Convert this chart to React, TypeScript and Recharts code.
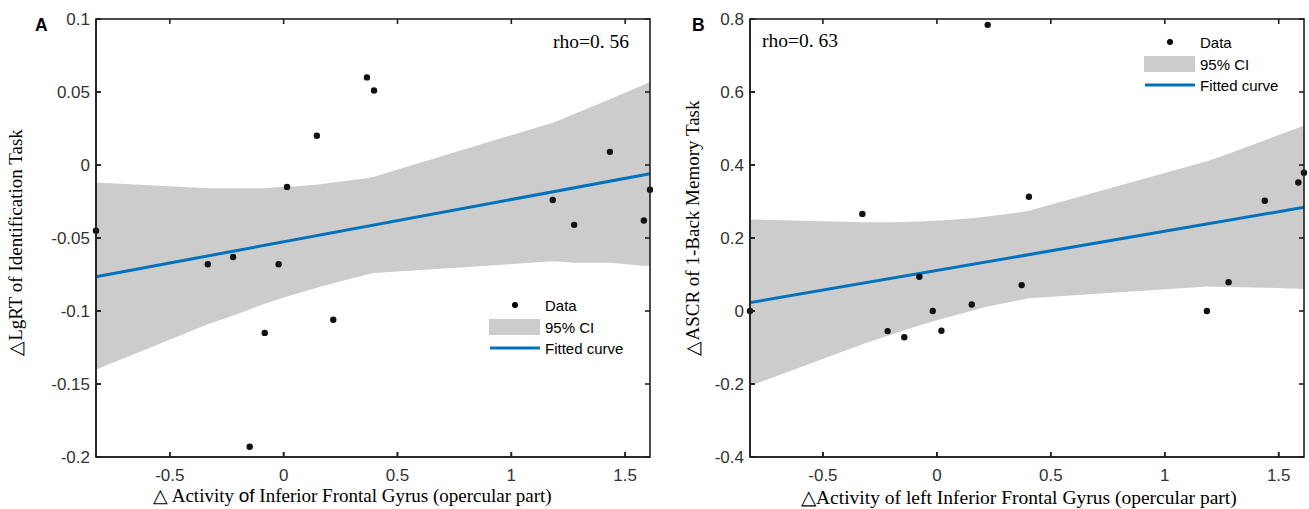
import React from 'react';
import {
  ComposedChart,
  Scatter,
  Line,
  Area,
  XAxis,
  YAxis,
  Legend,
} from 'recharts';

// ---------- Panel A data ----------
const xA = [-0.824, -0.333, -0.222, -0.149, -0.083, -0.022, 0.015, 0.146, 0.218, 0.366, 0.397, 1.182, 1.276, 1.433, 1.582, 1.609];
const yA = [-0.045, -0.068, -0.063, -0.193, -0.115, -0.068, -0.015, 0.02, -0.106, 0.06, 0.051, -0.024, -0.041, 0.009, -0.038, -0.017];
const ciLowA = [-0.14, -0.109, -0.103, -0.099, -0.095, -0.092, -0.09, -0.084, -0.081, -0.075, -0.074, -0.066, -0.067, -0.067, -0.069, -0.069];
const ciHighA = [-0.012, -0.016, -0.016, -0.016, -0.016, -0.015, -0.015, -0.0135, -0.012, -0.009, -0.008, 0.029, 0.035, 0.045, 0.055, 0.057];
const fitXA = [-0.824, 1.609];
const fitYA = [-0.0765, -0.006];
const yTicksA = [-0.2, -0.15, -0.1, -0.05, 0, 0.05, 0.1];

// ---------- Panel B data ----------
const xB = [-0.82, -0.327, -0.216, -0.143, -0.077, -0.018, 0.02, 0.153, 0.223, 0.372, 0.404, 1.185, 1.28, 1.439, 1.586, 1.611];
const yB = [0.0, 0.266, -0.055, -0.072, 0.094, 0.0, -0.054, 0.018, 0.784, 0.071, 0.313, 0.0, 0.079, 0.302, 0.352, 0.379];
const ciLowB = [-0.205, -0.091, -0.068, -0.053, -0.04, -0.029, -0.022, 0.001, 0.012, 0.031, 0.035, 0.067, 0.066, 0.064, 0.061, 0.06];
const ciHighB = [0.251, 0.243, 0.243, 0.244, 0.245, 0.247, 0.248, 0.254, 0.259, 0.271, 0.275, 0.41, 0.431, 0.468, 0.502, 0.508];
const fitXB = [-0.82, 1.611];
const fitYB = [0.023, 0.284];
const yTicksB = [-0.4, -0.2, 0, 0.2, 0.4, 0.6, 0.8];

const xTicks = [-0.5, 0, 0.5, 1, 1.5];

const SANS = "'Liberation Sans', Arial, sans-serif";
const SERIF = "'Liberation Serif', 'Times New Roman', serif";
const AXIS = '#202020';
const BLUE = '#0072BD';
const BAND = '#cccccc';
const LW = 1.6;
const TICK_LEN = 5;

// layout of the two panels (page pixels)
const CHART_H = 509;
const TOP = 19;
const XAXIS_H = 52;
const A_LEFT = 0, A_W = 660, A_YW = 96, A_MR = 10;
const B_LEFT = 655, B_W = 654, B_YW = 95, B_MR = 5;

const zipPts = (xs: number[], ys: number[]) => xs.map((x, i) => ({ x, y: ys[i] }));
const zipBand = (xs: number[], lo: number[], hi: number[]) => xs.map((x, i) => ({ x, band: [lo[i], hi[i]] }));

const fmt = (v: number) => String(v);

const Dot = (p: any) => <circle cx={p.cx} cy={p.cy} r={3.2} fill="#111" />;

const LegendBox = () => (
  <svg width={150} height={66} style={{ overflow: 'visible' }}>
    <circle cx={26} cy={9} r={3} fill="#000" />
    <text x={56} y={9} dominantBaseline="central" fontFamily={SANS} fontSize={15} fill="#000">Data</text>
    <rect x={0} y={23} width={51} height={16} fill={BAND} />
    <text x={56} y={31} dominantBaseline="central" fontFamily={SANS} fontSize={15} fill="#000">95% CI</text>
    <line x1={1} x2={51} y1={52} y2={52} stroke={BLUE} strokeWidth={3} />
    <text x={56} y={52} dominantBaseline="central" fontFamily={SANS} fontSize={15} fill="#000">Fitted curve</text>
  </svg>
);

// MATLAB-style box with inward ticks, positioned from the panel layout and axis domains
type FrameProps = {
  left: number;
  right: number;
  top: number;
  bottom: number;
  xDomain: [number, number];
  yDomain: [number, number];
  yTicks: number[];
};
const Frame = (f: FrameProps) => {
  const sx = (v: number) => f.left + ((v - f.xDomain[0]) / (f.xDomain[1] - f.xDomain[0])) * (f.right - f.left);
  const sy = (v: number) => f.bottom - ((v - f.yDomain[0]) / (f.yDomain[1] - f.yDomain[0])) * (f.bottom - f.top);
  return (
    <g stroke={AXIS} strokeWidth={LW} fill="none">
      <rect x={f.left} y={f.top} width={f.right - f.left} height={f.bottom - f.top} />
      {xTicks.map((t) => (
        <g key={'x' + t}>
          <line x1={sx(t)} x2={sx(t)} y1={f.bottom} y2={f.bottom - TICK_LEN} />
          <line x1={sx(t)} x2={sx(t)} y1={f.top} y2={f.top + TICK_LEN} />
        </g>
      ))}
      {f.yTicks.map((t) => (
        <g key={'y' + t}>
          <line x1={f.left} x2={f.left + TICK_LEN} y1={sy(t)} y2={sy(t)} />
          <line x1={f.right} x2={f.right - TICK_LEN} y1={sy(t)} y2={sy(t)} />
        </g>
      ))}
    </g>
  );
};

type PanelProps = {
  width: number;
  yAxisWidth: number;
  marginRight: number;
  xs: number[];
  ys: number[];
  lo: number[];
  hi: number[];
  fx: number[];
  fy: number[];
  yDomain: [number, number];
  yTicks: number[];
  legendLeft: number;
  legendTop: number;
};

const Panel = (pp: PanelProps) => {
  const xDomain: [number, number] = [Math.min(...pp.xs), Math.max(...pp.xs)];
  const tickStyle = { fill: '#333', fontSize: 17, fontFamily: SANS };
  const lineStyle = { stroke: AXIS, strokeWidth: LW };
  const pts = zipPts(pp.xs, pp.ys);
  return (
    <ComposedChart
      width={pp.width}
      height={CHART_H}
      data={zipBand(pp.xs, pp.lo, pp.hi)}
      margin={{ top: TOP, right: pp.marginRight, bottom: 0, left: 0 }}
    >
      <XAxis
        xAxisId="b"
        dataKey="x"
        type="number"
        domain={xDomain}
        ticks={xTicks}
        tickFormatter={fmt}
        height={XAXIS_H}
        stroke={AXIS}
        tickSize={-5}
        tickMargin={17}
        axisLine={lineStyle}
        tickLine={lineStyle}
        tick={tickStyle}
        interval={0}
      />
      <YAxis
        yAxisId="l"
        type="number"
        domain={pp.yDomain}
        ticks={pp.yTicks}
        tickFormatter={fmt}
        width={pp.yAxisWidth}
        stroke={AXIS}
        tickSize={-5}
        tickMargin={11}
        axisLine={lineStyle}
        tickLine={lineStyle}
        tick={tickStyle}
        interval={0}
      />
      <Area
        xAxisId="b"
        yAxisId="l"
        dataKey="band"
        type="linear"
        stroke="none"
        fill={BAND}
        fillOpacity={1}
        isAnimationActive={false}
        activeDot={false}
      />
      <Line
        xAxisId="b"
        yAxisId="l"
        data={zipPts(pp.fx, pp.fy)}
        dataKey="y"
        type="linear"
        stroke={BLUE}
        strokeWidth={3}
        dot={false}
        activeDot={false}
        isAnimationActive={false}
      />
      <Scatter
        xAxisId="b"
        yAxisId="l"
        data={pts}
        dataKey="y"
        shape={Dot}
        isAnimationActive={false}
      />
      <Legend
        layout="vertical"
        align="center"
        verticalAlign="middle"
        content={() => <LegendBox />}
        wrapperStyle={{ position: 'absolute', left: pp.legendLeft, top: pp.legendTop, width: 150, height: 66 }}
      />
    </ComposedChart>
  );
};

export default function App() {
  const xDomA: [number, number] = [Math.min(...xA), Math.max(...xA)];
  const xDomB: [number, number] = [Math.min(...xB), Math.max(...xB)];
  const bottom = CHART_H - XAXIS_H;
  return (
    <div style={{ position: 'absolute', left: 0, top: 0, width: 1309, height: 509, background: '#fff', overflow: 'hidden' }}>
      <div style={{ position: 'absolute', left: A_LEFT, top: 0 }}>
        <Panel
          width={A_W}
          yAxisWidth={A_YW}
          marginRight={A_MR}
          xs={xA}
          ys={yA}
          lo={ciLowA}
          hi={ciHighA}
          fx={fitXA}
          fy={fitYA}
          yDomain={[-0.2, 0.1]}
          yTicks={yTicksA}
          legendLeft={489}
          legendTop={296}
        />
      </div>
      <div style={{ position: 'absolute', left: B_LEFT, top: 0 }}>
        <Panel
          width={B_W}
          yAxisWidth={B_YW}
          marginRight={B_MR}
          xs={xB}
          ys={yB}
          lo={ciLowB}
          hi={ciHighB}
          fx={fitXB}
          fy={fitYB}
          yDomain={[-0.4, 0.8]}
          yTicks={yTicksB}
          legendLeft={489}
          legendTop={33}
        />
      </div>
      <svg width={1309} height={509} style={{ position: 'absolute', left: 0, top: 0, pointerEvents: 'none' }}>
        <Frame
          left={A_LEFT + A_YW}
          right={A_LEFT + A_W - A_MR}
          top={TOP}
          bottom={bottom}
          xDomain={xDomA}
          yDomain={[-0.2, 0.1]}
          yTicks={yTicksA}
        />
        <Frame
          left={B_LEFT + B_YW}
          right={B_LEFT + B_W - B_MR}
          top={TOP}
          bottom={bottom}
          xDomain={xDomB}
          yDomain={[-0.4, 0.8]}
          yTicks={yTicksB}
        />
        <text x={35} y={31} fontFamily={SANS} fontWeight="bold" fontSize={17.5} fill="#000">A</text>
        <text x={692} y={31} fontFamily={SANS} fontWeight="bold" fontSize={17.5} fill="#000">B</text>
        <text x={553} y={48} fontFamily={SERIF} fontSize={19.5} fill="#000">rho=0. 56</text>
        <text x={762} y={46.5} fontFamily={SERIF} fontSize={19.5} fill="#000">rho=0. 63</text>
        <text
          transform="translate(21.5,242.5) rotate(-90)"
          textAnchor="middle"
          fontFamily={SERIF}
          fontSize={19}
          fill="#000"
        >
          △LgRT of Identification Task
        </text>
        <text
          transform="translate(699,228) rotate(-90)"
          textAnchor="middle"
          fontFamily={SERIF}
          fontSize={19}
          fill="#000"
        >
          △ASCR of 1-Back Memory Task
        </text>
        <text x={153} y={502} fontFamily={SERIF} fontSize={19} fill="#000">
          △ Activity <tspan fontFamily={SANS}>of</tspan> Inferior Frontal Gyrus (opercular part)
        </text>
        <text x={801} y={504} fontFamily={SERIF} fontSize={19.5} fill="#000">
          △Activity of left Inferior Frontal Gyrus (opercular part)
        </text>
      </svg>
    </div>
  );
}
